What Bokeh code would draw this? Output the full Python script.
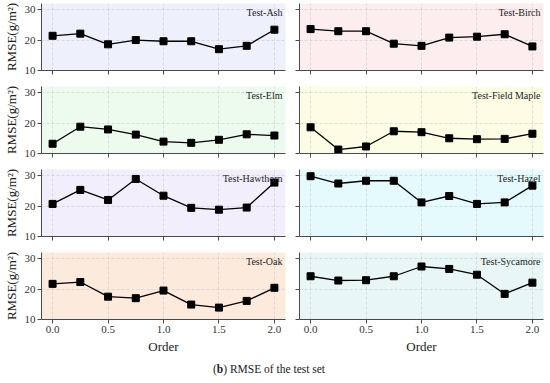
from bokeh.plotting import figure
from bokeh.layouts import column, row
from bokeh.models import Range1d, FixedTicker, PrintfTickFormatter, Label, Div
from bokeh.embed import file_html
from bokeh.resources import INLINE

order = [0.0, 0.25, 0.5, 0.75, 1.0, 1.25, 1.5, 1.75, 2.0]

names = ["Test-Ash", "Test-Birch", "Test-Elm", "Test-Field Maple",
         "Test-Hawthorn", "Test-Hazel", "Test-Oak", "Test-Sycamore"]

ash = [21.4, 22.1, 18.6, 20.0, 19.6, 19.6, 17.0, 18.1, 23.4]
birch = [23.6, 22.9, 22.9, 18.8, 18.1, 20.8, 21.1, 21.9, 17.9]
elm = [13.2, 18.8, 17.9, 16.2, 13.9, 13.5, 14.5, 16.3, 15.9]
field_maple = [18.6, 11.3, 12.3, 17.3, 17.0, 15.0, 14.7, 14.8, 16.5]
hawthorn = [20.7, 25.3, 22.0, 28.9, 23.4, 19.4, 18.8, 19.5, 27.7]
hazel = [29.8, 27.4, 28.3, 28.3, 21.2, 23.3, 20.7, 21.2, 26.7]
oak = [21.7, 22.3, 17.5, 17.0, 19.5, 14.9, 13.9, 16.1, 20.4]
sycamore = [24.2, 22.8, 22.9, 24.2, 27.4, 26.6, 24.7, 18.4, 22.1]

series = [ash, birch, elm, field_maple, hawthorn, hazel, oak, sycamore]

bg_colors = ["#eef0fc", "#fcedef", "#edfbef", "#fdfde6",
             "#f3eefc", "#e5fafc", "#fcebdc", "#e8f7f5"]

y_ticks = [10, 20, 30]
x_ticks = [0.0, 0.5, 1.0, 1.5, 2.0]

SERIF = "Liberation Serif"
AXIS_COLOR = "#4a4a4a"


def style_axis(ax, labelled):
    ax.axis_line_color = AXIS_COLOR
    ax.axis_line_width = 1
    ax.major_tick_line_color = AXIS_COLOR
    ax.major_tick_out = 4
    ax.major_tick_in = 0
    ax.minor_tick_line_color = AXIS_COLOR if not labelled else None
    ax.minor_tick_out = 4
    ax.minor_tick_in = 0
    ax.major_label_text_font = SERIF
    ax.major_label_text_color = "#333333"
    ax.major_label_text_font_size = "11px"
    ax.major_label_standoff = 2
    ax.axis_label_text_font = SERIF
    ax.axis_label_text_font_style = "normal"
    ax.axis_label_text_font_size = "13px"
    ax.axis_label_text_color = "#222222"
    ax.axis_label_standoff = 3


def make_panel(i):
    col = i % 2
    rw = i // 2
    last = rw == 3
    p = figure(
        frame_width=244, frame_height=67,
        x_range=Range1d(-0.1, 2.1), y_range=Range1d(10, 32),
        output_backend="svg", toolbar_location=None,
        min_border_left=34 if col == 0 else 9,
        min_border_right=5 if col == 0 else 2,
        min_border_top=3,
        min_border_bottom=36 if last else 13,
    )
    p.background_fill_color = bg_colors[i]
    p.border_fill_color = "white"
    p.outline_line_color = None

    xlab = last
    ylab = col == 0
    style_axis(p.xaxis[0], xlab)
    style_axis(p.yaxis[0], ylab)

    # labelled axes use major ticks; unlabelled axes show tick marks only
    if xlab:
        p.xaxis.ticker = FixedTicker(ticks=x_ticks)
        p.xaxis.formatter = PrintfTickFormatter(format="%.1f")
        p.xaxis.axis_label = "Order"
    else:
        p.xaxis.ticker = FixedTicker(ticks=[], minor_ticks=x_ticks)
        p.xaxis.major_label_standoff = 0
    if ylab:
        p.yaxis.ticker = FixedTicker(ticks=y_ticks)
        p.yaxis.axis_label = "RMSE(g/m²)"
    else:
        p.yaxis.ticker = FixedTicker(ticks=[], minor_ticks=y_ticks)
        p.yaxis.major_label_standoff = 0

    p.xgrid.ticker = FixedTicker(ticks=x_ticks)
    p.ygrid.ticker = FixedTicker(ticks=y_ticks)
    p.grid.grid_line_color = "#c8c8c8"
    p.grid.grid_line_alpha = 0.7
    p.grid.grid_line_dash = "3 2"
    p.grid.grid_line_width = 0.8

    p.line(order, series[i], line_color="black", line_width=1.3)
    p.scatter(order, series[i], marker="square", size=7,
              fill_color="black", line_color="black")

    lab = Label(x=2.1, y=32, text=names[i], text_align="right",
                text_baseline="top", x_offset=-3, y_offset=-3,
                text_font=SERIF, text_font_size="10px", text_color="#222222")
    p.add_layout(lab)
    return p


panels = [make_panel(i) for i in range(8)]
rows = [row(panels[2 * r], panels[2 * r + 1], spacing=0) for r in range(4)]

caption = Div(
    text="(<b>b</b>) RMSE of the test set",
    width=538, height=14, margin=(5, 0, 0, 0),
    styles={"text-align": "center", "font-family": "Liberation Serif",
            "font-size": "11.5px", "color": "#222222", "width": "538px"},
)

layout = column(*rows, caption, spacing=0)

open("out.html", "w").write(file_html(layout, INLINE))
